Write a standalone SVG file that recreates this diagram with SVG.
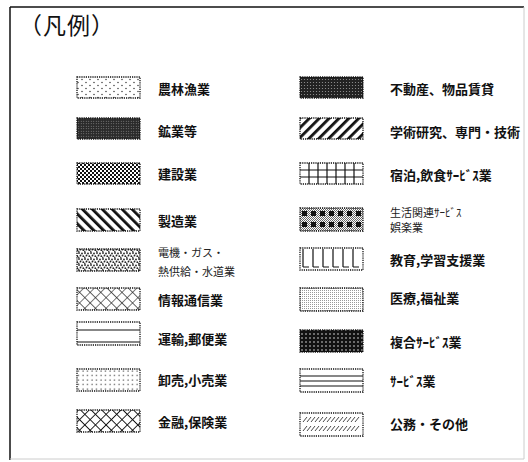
<svg xmlns="http://www.w3.org/2000/svg" width="528" height="462" viewBox="0 0 528 462">
<style>
.lbl{font-family:"Noto Sans CJK JP","Noto Sans",sans-serif;font-size:13px;font-weight:bold;fill:#111}
.sm{font-family:"Noto Sans CJK JP","Noto Sans",sans-serif;font-size:11px;font-weight:normal;fill:#222}
.ttl{font-family:"Noto Sans CJK JP","Noto Sans",sans-serif;font-size:23px;fill:#111;letter-spacing:1px}
.sw{stroke:#111;stroke-width:1.3;stroke-dasharray:1.2 1}
.ln{stroke:#111;stroke-width:1.2}
</style>
<defs>
<pattern id="p1" patternUnits="userSpaceOnUse" width="8" height="6"><circle cx="2" cy="1.5" r="0.7" fill="#222"/><circle cx="6" cy="4.5" r="0.7" fill="#222"/></pattern>
<pattern id="p2" patternUnits="userSpaceOnUse" width="2.5" height="2.5"><rect width="2.5" height="2.5" fill="#2a2a2a"/><circle cx="1.25" cy="1.25" r="0.5" fill="#aaa"/></pattern>
<pattern id="p3" patternUnits="userSpaceOnUse" width="4" height="4"><rect width="4" height="4" fill="#fff"/><rect width="2" height="2" fill="#111"/><rect x="2" y="2" width="2" height="2" fill="#111"/></pattern>
<pattern id="p4" patternUnits="userSpaceOnUse" width="7" height="7" patternTransform="rotate(-45)"><rect width="7" height="7" fill="#fff"/><rect width="2.8" height="7" fill="#111"/></pattern>
<pattern id="p5" patternUnits="userSpaceOnUse" width="6" height="6"><rect width="6" height="6" fill="#fff"/><circle cx="1" cy="1" r="0.9" fill="#222"/><circle cx="4" cy="1.5" r="0.9" fill="#222"/><circle cx="2.5" cy="3.5" r="0.9" fill="#222"/><circle cx="5.3" cy="4.2" r="0.9" fill="#222"/><circle cx="0.8" cy="5.2" r="0.8" fill="#222"/></pattern>
<pattern id="p6" patternUnits="userSpaceOnUse" width="7.5" height="7.5" patternTransform="rotate(45)"><rect width="7.5" height="7.5" fill="#fff"/><path d="M0 0H7.5M0 0V7.5" stroke="#222" stroke-width="1.2"/></pattern>
<pattern id="p8" patternUnits="userSpaceOnUse" width="4.5" height="4.5"><circle cx="2" cy="2" r="0.65" fill="#222"/></pattern>
<pattern id="p9" patternUnits="userSpaceOnUse" width="7.5" height="7.5" patternTransform="rotate(45)"><rect width="7.5" height="7.5" fill="#fff"/><path d="M0 0H7.5M0 0V7.5" stroke="#111" stroke-width="1.8"/></pattern>
<pattern id="q1" patternUnits="userSpaceOnUse" width="3" height="3"><rect width="3" height="3" fill="#222"/><circle cx="1.5" cy="1.5" r="0.6" fill="#999"/></pattern>
<pattern id="q2" patternUnits="userSpaceOnUse" width="7" height="7" patternTransform="rotate(45)"><rect width="7" height="7" fill="#fff"/><rect width="2.8" height="7" fill="#111"/></pattern>
<pattern id="q4" patternUnits="userSpaceOnUse" width="2" height="2"><rect width="2" height="2" fill="#fff"/><rect width="1" height="1" fill="#666"/><rect x="1" y="1" width="1" height="1" fill="#666"/></pattern>
<pattern id="q6" patternUnits="userSpaceOnUse" width="2" height="2"><rect width="2" height="2" fill="#fff"/><rect width="1" height="1" fill="#999"/></pattern>
<pattern id="q7" patternUnits="userSpaceOnUse" width="4" height="4"><rect width="4" height="4" fill="#111"/><circle cx="2" cy="2" r="0.8" fill="#ddd"/></pattern>
</defs>

<g id="frame">
<line x1="10" y1="7" x2="524" y2="7" stroke="#111" stroke-width="1.5"/>
<line x1="10" y1="7" x2="10" y2="460" stroke="#111" stroke-width="1.5"/>
<line x1="524" y1="7" x2="524" y2="459" stroke="#ccc" stroke-width="1"/>
<line x1="10" y1="459" x2="524" y2="459" stroke="#ccc" stroke-width="1"/>
</g>
<text id="title" class="ttl" x="19" y="34">（凡例）</text>

<g id="n-nourin"><rect class="sw" x="77" y="77" width="63" height="21" fill="url(#p1)"/><text class="lbl" x="158" y="94">農林漁業</text></g>
<g id="n-kougyou"><rect class="sw" x="77" y="118" width="63" height="21" fill="url(#p2)"/><text class="lbl" x="158" y="136">鉱業等</text></g>
<g id="n-kensetsu"><rect class="sw" x="77" y="163" width="63" height="21" fill="url(#p3)"/><text class="lbl" x="158" y="179">建設業</text></g>
<g id="n-seizou"><rect class="sw" x="77" y="209" width="63" height="22" fill="url(#p4)"/><text class="lbl" x="158" y="226">製造業</text></g>
<g id="n-denki"><rect class="sw" x="77" y="249" width="63" height="22" fill="url(#p5)"/><text class="sm" x="158" y="257">電機・ガス・</text><text class="sm" x="158" y="276">熱供給・水道業</text></g>
<g id="n-jouhou"><rect class="sw" x="77" y="288" width="63" height="22" fill="url(#p6)"/><text class="lbl" x="158" y="305">情報通信業</text></g>
<g id="n-unyu"><rect class="sw" x="77" y="322" width="63" height="23" fill="#fff"/><line class="ln" x1="77" y1="330" x2="140" y2="330"/><line class="ln" x1="77" y1="342" x2="140" y2="342"/><text class="lbl" x="158" y="344">運輸,郵便業</text></g>
<g id="n-oroshi"><rect class="sw" x="77" y="369" width="63" height="22" fill="url(#p8)"/><text class="lbl" x="158" y="385">卸売,小売業</text></g>
<g id="n-kinyu"><rect class="sw" x="77" y="410" width="63" height="22" fill="url(#p9)"/><text class="lbl" x="158" y="427">金融,保険業</text></g>

<g id="n-fudousan"><rect class="sw" x="300" y="77" width="63" height="21" fill="url(#q1)"/><text class="lbl" x="390" y="94">不動産、物品賃貸</text></g>
<g id="n-gakujutsu"><rect class="sw" x="300" y="118" width="63" height="21" fill="url(#q2)"/><text class="lbl" x="390" y="137">学術研究、専門・技術</text></g>
<g id="n-shukuhaku"><rect class="sw" x="300" y="163" width="63" height="21" fill="#fff"/>
<path class="ln" d="M300 170H363M300 177H363M309 163V184M318 163V184M327 163V184M336 163V184M345 163V184M354 163V184"/>
<text class="lbl" x="390" y="180">宿泊,飲食ｻｰﾋﾞｽ業</text></g>
<g id="n-seikatsu"><rect class="sw" x="300" y="208" width="63" height="23" fill="url(#q4)"/>
<g fill="#111"><rect x="302" y="211" width="5" height="5"/><rect x="311" y="211" width="5" height="5"/><rect x="320" y="211" width="5" height="5"/><rect x="329" y="211" width="5" height="5"/><rect x="338" y="211" width="5" height="5"/><rect x="347" y="211" width="5" height="5"/><rect x="356" y="211" width="5" height="5"/>
<rect x="302" y="222" width="5" height="5"/><rect x="311" y="222" width="5" height="5"/><rect x="320" y="222" width="5" height="5"/><rect x="329" y="222" width="5" height="5"/><rect x="338" y="222" width="5" height="5"/><rect x="347" y="222" width="5" height="5"/><rect x="356" y="222" width="5" height="5"/></g>
<text class="sm" x="390" y="217">生活関連ｻｰﾋﾞｽ</text><text class="sm" x="390" y="232">娯楽業</text></g>
<g id="n-kyouiku"><rect class="sw" x="300" y="248" width="63" height="22" fill="#fff"/>
<path class="ln" d="M303 249V267M313 249V267M323 249V267M333 249V267M343 249V267M353 249V267M303 267H309M313 267H319M323 267H329M333 267H339M343 267H349M353 267H359"/>
<text class="lbl" x="390" y="265">教育,学習支援業</text></g>
<g id="n-iryou"><rect class="sw" x="300" y="288" width="63" height="23" fill="url(#q6)"/><text class="lbl" x="390" y="303">医療,福祉業</text></g>
<g id="n-fukugou"><rect class="sw" x="300" y="330" width="63" height="22" fill="url(#q7)"/><text class="lbl" x="390" y="347">複合ｻｰﾋﾞｽ業</text></g>
<g id="n-service"><rect class="sw" x="300" y="369" width="63" height="23" fill="#fff"/><path class="ln" d="M300 376H363M300 381H363M300 386H363"/><text class="lbl" x="390" y="386">ｻｰﾋﾞｽ業</text></g>
<g id="n-koumu"><rect class="sw" x="300" y="413" width="63" height="23" fill="#fff"/>
<path stroke="#333" stroke-width="0.9" d="M303 422l4-5M307 422l4-5M311 422l4-5M315 422l4-5M319 422l4-5M323 422l4-5M327 422l4-5M331 422l4-5M335 422l4-5M339 422l4-5M343 422l4-5M347 422l4-5M351 422l4-5M355 422l4-5M303 431l4-5M307 431l4-5M311 431l4-5M315 431l4-5M319 431l4-5M323 431l4-5M327 431l4-5M331 431l4-5M335 431l4-5M339 431l4-5M343 431l4-5M347 431l4-5M351 431l4-5M355 431l4-5"/>
<text class="lbl" x="390" y="429">公務・その他</text></g>
</svg>
